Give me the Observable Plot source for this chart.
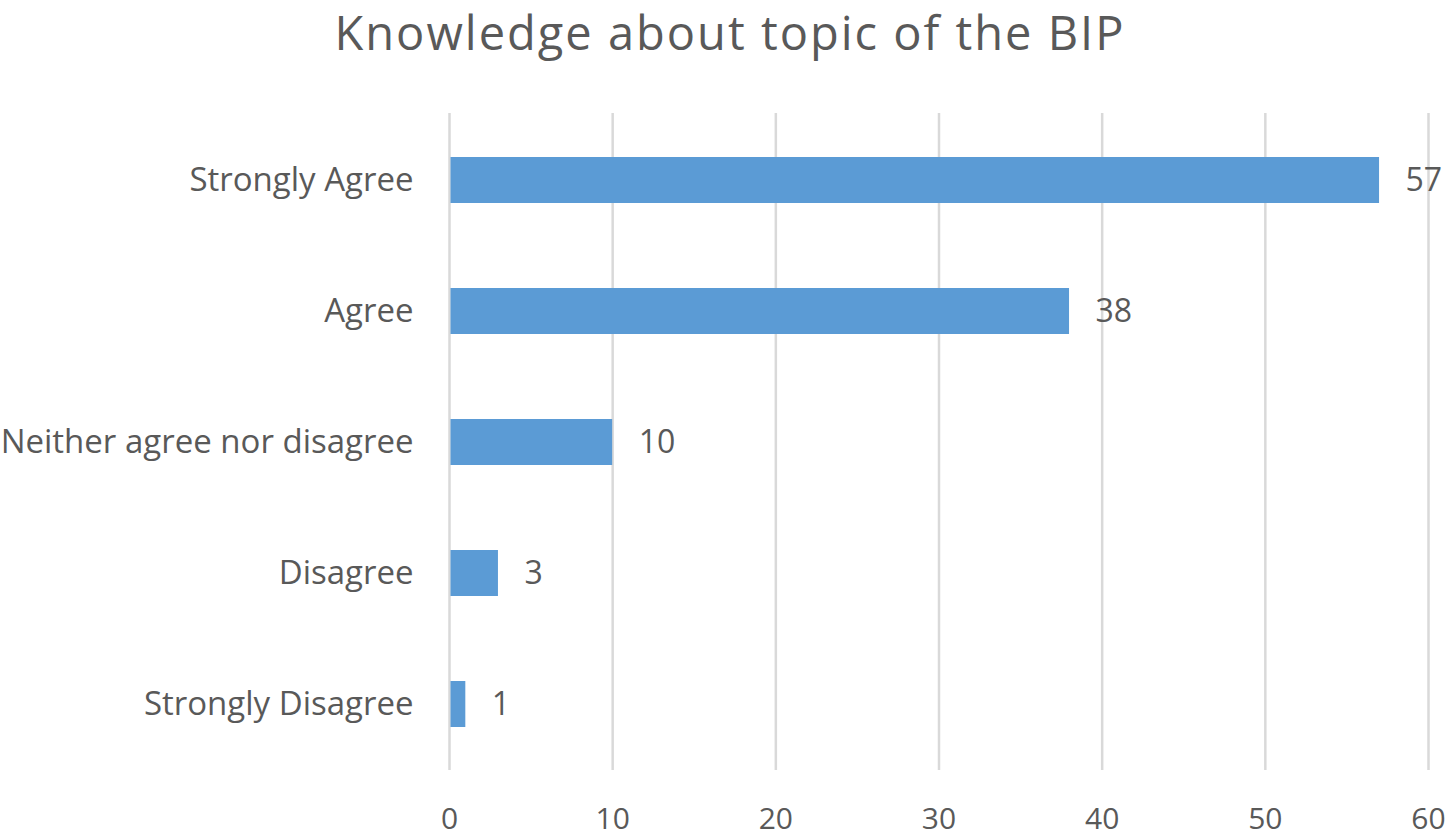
<!DOCTYPE html>
<html>
<head>
<meta charset="utf-8">
<script src="https://cdn.jsdelivr.net/npm/d3@7"></script>
<script src="https://cdn.jsdelivr.net/npm/@observablehq/plot@0.6"></script>
<style>
  html, body { margin: 0; padding: 0; background: #fff; }
  #wrap { width: 1452px; height: 836px; position: relative; font-family: "Open Sans", sans-serif; }
  #title { height: 90px; padding-top: 9px; box-sizing: border-box; text-align: center; color: #595959; font-size: 47px; line-height: 47px; letter-spacing: 2px; white-space: nowrap; padding-left: 8px; }
</style>
</head>
<body>
<div id="wrap">
  <div id="title">Knowledge about topic of the BIP</div>
  <div id="chart"></div>
</div>
<script>
const categories = ["Strongly Agree", "Agree", "Neither agree nor disagree", "Disagree", "Strongly Disagree"];
const counts = [57, 38, 10, 3, 1];
const xTicks = [0, 10, 20, 30, 40, 50, 60];

const data = categories.map((c, i) => ({category: c, value: counts[i]}));

const chart = Plot.plot({
  width: 1452,
  height: 746,
  marginTop: 23,
  marginBottom: 66,
  marginLeft: 449,
  marginRight: 24,
  style: {fontFamily: "'Open Sans', sans-serif", color: "#595959", background: "#fff", overflow: "visible"},
  x: {domain: [0, 60], ticks: xTicks, label: null},
  y: {domain: categories, paddingInner: 0.65, paddingOuter: 0.325, label: null},
  marks: [
    Plot.ruleX(xTicks, {stroke: "#d9d9d9", strokeWidth: 2.5}),
    Plot.barX(data, {x: "value", y: "category", fill: "#5B9BD5", insetLeft: 1.5}),
    Plot.text(data, {x: "value", y: "category", text: d => String(d.value), dx: 26, textAnchor: "start", fill: "#595959", fontSize: 32}),
    Plot.axisX({ticks: xTicks, tickSize: 0, tickPadding: 37, fontSize: 30, label: null, tickFormat: d => String(d)}),
    Plot.axisY({tickSize: 0, tickPadding: 36, fontSize: 33, label: null})
  ]
});
chart.querySelectorAll("text").forEach(t => t.setAttribute("fill", "#595959"));
document.getElementById("chart").appendChild(chart);
</script>
</body>
</html>
